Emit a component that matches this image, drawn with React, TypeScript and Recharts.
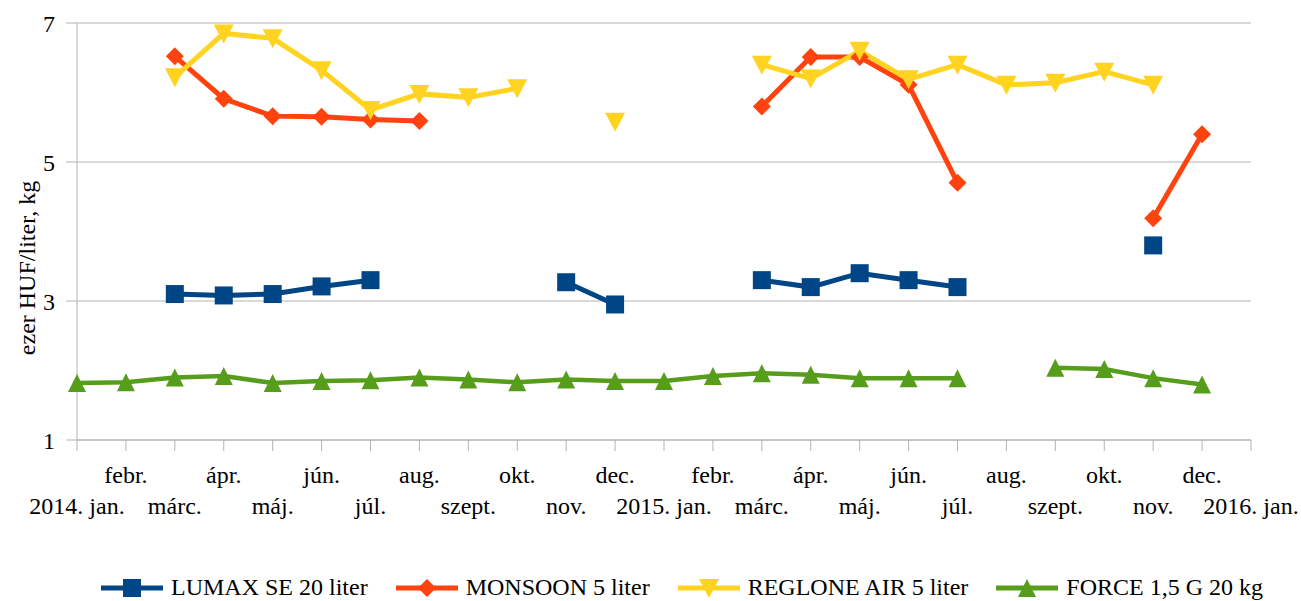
import React from "react"
import { LineChart, Line, XAxis, YAxis, CartesianGrid, ReferenceLine, Label } from "recharts"

const months = [
  "2014. jan.", "febr.", "márc.", "ápr.", "máj.", "jún.", "júl.", "aug.", "szept.", "okt.", "nov.", "dec.",
  "2015. jan.", "febr.", "márc.", "ápr.", "máj.", "jún.", "júl.", "aug.", "szept.", "okt.", "nov.", "dec.",
  "2016. jan.",
]

// ezer HUF per package, null = no quote that month
const lumax = [
  null, null, 3.1, 3.08, 3.1, 3.21, 3.3, null, null, null, 3.27, 2.95,
  null, null, 3.3, 3.2, 3.4, 3.3, 3.2, null, null, null, 3.8, null,
  null,
]
const monsoon = [
  null, null, 6.52, 5.91, 5.66, 5.65, 5.61, 5.59, null, null, null, null,
  null, null, 5.8, 6.51, 6.51, 6.11, 4.7, null, null, null, 4.19, 5.4,
  null,
]
const reglone = [
  null, null, 6.22, 6.85, 6.78, 6.32, 5.75, 5.98, 5.93, 6.06, null, 5.58,
  null, null, 6.4, 6.2, 6.6, 6.19, 6.4, 6.11, 6.14, 6.3, 6.11, null,
  null,
]
const force = [
  1.82, 1.83, 1.9, 1.92, 1.82, 1.85, 1.86, 1.9, 1.87, 1.83, 1.87, 1.85,
  1.85, 1.92, 1.96, 1.94, 1.89, 1.89, 1.89, null, 2.04, 2.02, 1.89, 1.8,
  null,
]

const yTicks = [1, 3, 5, 7]

const seriesNames = ["LUMAX SE 20 liter", "MONSOON 5 liter", "REGLONE AIR 5 liter", "FORCE 1,5 G 20 kg"]
const seriesKeys = ["lumax", "monsoon", "reglone", "force"]
const seriesColors = ["#004586", "#ff420e", "#ffd320", "#579d1c"]
const seriesMarkers = ["square", "diamond", "down", "up"]

const FONT = "'Liberation Serif', 'DejaVu Serif', 'Times New Roman', serif"
const GRID = "#b3b3b3"

const data = months.map((m, i) => ({
  m,
  lumax: lumax[i],
  monsoon: monsoon[i],
  reglone: reglone[i],
  force: force[i],
}))

const markerShape = (kind: string, cx: number, cy: number, color: string, key?: string) => {
  if (kind === "square") {
    return <rect key={key} x={cx - 9} y={cy - 9} width={18} height={18} fill={color} />
  }
  if (kind === "diamond") {
    return <polygon key={key} points={`${cx},${cy - 9} ${cx + 9},${cy} ${cx},${cy + 9} ${cx - 9},${cy}`} fill={color} />
  }
  if (kind === "down") {
    return <polygon key={key} points={`${cx - 10},${cy - 9} ${cx + 10},${cy - 9} ${cx},${cy + 10}`} fill={color} />
  }
  return <polygon key={key} points={`${cx - 9},${cy + 9} ${cx + 9},${cy + 9} ${cx},${cy - 9}`} fill={color} />
}

const makeDot = (kind: string, color: string) => (props: any) => {
  const { cx, cy, index, value } = props
  const key = `${kind}-${index}`
  if (value == null || cy == null || cx == null) return <g key={key} />
  return markerShape(kind, cx, cy, color, key)
}

// month labels alternate between two rows
const XTick = (props: any) => {
  const { x, payload, index } = props
  const lower = index % 2 === 0
  return (
    <text x={x} y={lower ? 514 : 483} textAnchor="middle" fontFamily={FONT} fontSize={24} fill="#000">
      {payload.value}
    </text>
  )
}

const YLabel = () => (
  <text
    x={27}
    y={268}
    transform="rotate(-90, 27, 268)"
    textAnchor="middle"
    dominantBaseline="central"
    fontFamily={FONT}
    fontSize={24}
    fill="#000"
  >
    ezer HUF/liter, kg
  </text>
)

const LegendRow = () => (
  <div
    style={{
      position: "absolute",
      left: 101,
      top: 574,
      display: "flex",
      alignItems: "center",
      fontFamily: FONT,
      fontSize: 24,
      color: "#000",
      whiteSpace: "nowrap",
    }}
  >
    {seriesNames.map((name, i) => (
      <div key={name} style={{ display: "flex", alignItems: "center", marginRight: 28 }}>
        <svg width={62} height={22} style={{ marginRight: 8 }}>
          <line x1={0} y1={11} x2={62} y2={11} stroke={seriesColors[i]} strokeWidth={5} />
          {markerShape(seriesMarkers[i], 31, 11, seriesColors[i])}
        </svg>
        <span>{name}</span>
      </div>
    ))}
  </div>
)

export default function App() {
  return (
    <div style={{ position: "absolute", left: 0, top: 0, width: 1301, height: 601, background: "#fff", fontFamily: FONT }}>
      <LineChart
        width={1301}
        height={601}
        data={data}
        margin={{ top: 23, right: 50, bottom: 0, left: 0 }}
        style={{ fontFamily: FONT }}
      >
        <CartesianGrid vertical={false} stroke={GRID} />
        <XAxis
          dataKey="m"
          interval={0}
          tickSize={11}
          height={161}
          axisLine={{ stroke: GRID }}
          tickLine={{ stroke: GRID }}
          tick={<XTick />}
        />
        <YAxis
          width={77}
          domain={[1, 7]}
          ticks={yTicks}
          tickSize={11}
          tickMargin={11}
          axisLine={{ stroke: GRID }}
          tickLine={{ stroke: GRID }}
          tick={{ fontSize: 24, fontFamily: FONT, fill: "#000" }}
        >
          <Label content={<YLabel />} />
        </YAxis>
        <ReferenceLine x="2016. jan." stroke={GRID} />
        {seriesKeys.map((k, i) => (
          <Line
            key={k}
            dataKey={k}
            type="linear"
            stroke={seriesColors[i]}
            strokeWidth={k === "force" ? 4.5 : 5}
            dot={makeDot(seriesMarkers[i], seriesColors[i])}
            activeDot={false}
            isAnimationActive={false}
          />
        ))}
      </LineChart>
      <LegendRow />
    </div>
  )
}
